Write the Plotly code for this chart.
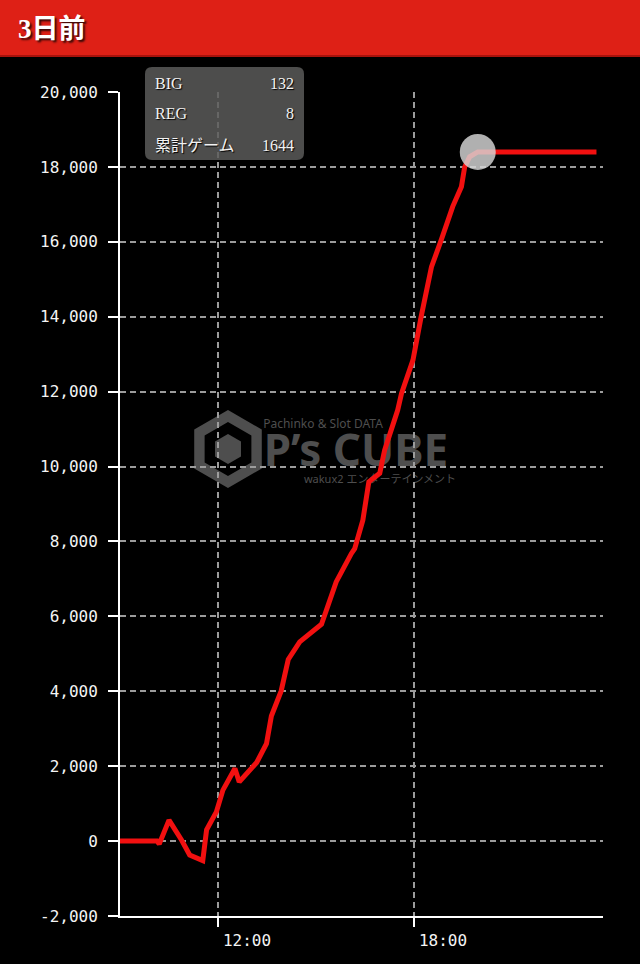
import math

import plotly.graph_objects as go

# slot data: time of day and cumulative difference
DAY = "2024-01-01 "
times = ["09:00", "10:08", "10:12", "10:30", "10:53", "11:08", "11:32", "11:39", "11:57", "12:09",
         "12:31", "12:39", "13:11", "13:29", "13:38", "13:56", "14:09", "14:30", "15:10", "15:37",
         "16:05", "16:11", "16:26", "16:37", "16:57", "17:06", "17:24", "17:30", "17:37", "17:55",
         "17:58", "18:13", "18:32", "18:50", "19:11", "19:27", "19:33", "19:42", "19:57", "23:35"]
diff = [0, 0, -80, 560, 30, -370, -520, 300, 780, 1360,
        1940, 1580, 2100, 2600, 3340, 4010, 4850, 5320, 5790, 6920,
        7680, 7810, 8570, 9590, 9820, 10440, 11240, 11510, 11950, 12660,
        12840, 14000, 15330, 16050, 16940, 17470, 18000, 18270, 18400, 18400]

highlight_time = "19:57"
highlight_value = 18400

y_ticks = [-2000, 0, 2000, 4000, 6000, 8000, 10000, 12000, 14000, 16000, 18000, 20000]
y_tick_labels = ["-2,000", "0", "2,000", "4,000", "6,000", "8,000", "10,000",
                 "12,000", "14,000", "16,000", "18,000", "20,000"]
x_ticks = ["12:00", "18:00"]

title = "3日前"
info_labels = ["BIG", "REG", "累計ゲーム"]
info_values = ["132", "8", "1644"]

# plot area in pixels (640x964 page)
L, R, T, B = 120, 603, 92, 916


def px(x):
    return (x - L) / (R - L)


def py(y):
    return (B - y) / (B - T)


def hex_path(cx, cy, r):
    pts = []
    for k in range(6):
        a = math.radians(90 + 60 * k)
        pts.append((px(cx + r * math.cos(a)), py(cy - r * math.sin(a))))
    return "M " + " L ".join("{:.5f},{:.5f}".format(a, b) for a, b in pts) + " Z"


def rounded_box(x0, y0, x1, y1, r):
    rx, ry = r / (R - L), r / (B - T)
    X0, X1, Yt, Yb = px(x0), px(x1), py(y0), py(y1)
    return (f"M {X0 + rx},{Yt} L {X1 - rx},{Yt} Q {X1},{Yt} {X1},{Yt - ry} "
            f"L {X1},{Yb + ry} Q {X1},{Yb} {X1 - rx},{Yb} L {X0 + rx},{Yb} "
            f"Q {X0},{Yb} {X0},{Yb + ry} L {X0},{Yt - ry} Q {X0},{Yt} {X0 + rx},{Yt} Z")


fig = go.Figure()
fig.add_trace(go.Scatter(
    x=[DAY + t for t in times], y=diff, mode="lines",
    line=dict(color="#f21010", width=5), hoverinfo="skip",
))
fig.add_trace(go.Scatter(
    x=[DAY + highlight_time], y=[highlight_value], mode="markers",
    marker=dict(size=36, color="rgba(215,215,215,0.82)", line=dict(width=0)),
    hoverinfo="skip",
))

shapes = []
# header bar
shapes.append(dict(type="rect", xref="paper", yref="paper", x0=px(0), x1=px(640), y0=py(57), y1=py(0),
                   fillcolor="#de2016", line=dict(width=0), layer="above"))
shapes.append(dict(type="line", xref="paper", yref="paper", x0=px(0), x1=px(640), y0=py(56), y1=py(56),
                   line=dict(color="#a8120c", width=2)))
# zero line
shapes.append(dict(type="line", xref="paper", yref="y", x0=0, x1=1, y0=0, y1=0,
                   line=dict(color="#e6e6e6", width=1.5, dash="6px,4px"), layer="below"))
# watermark logo
wm = "#4e4e4e"
shapes.append(dict(type="path", xref="paper", yref="paper",
                   path=hex_path(228, 449, 39) + " " + hex_path(228, 449, 27),
                   fillcolor=wm, line=dict(width=0), layer="below"))
shapes.append(dict(type="path", xref="paper", yref="paper", path=hex_path(228, 449, 15),
                   fillcolor=wm, line=dict(width=0), layer="below"))
for text, cx, cy, size, weight in [("Pachinko & Slot DATA", 323, 424, 12, "normal"),
                                   ("P’s CUBE", 356, 452, 44, "bold"),
                                   ("wakux2 エンターテインメント", 380, 479, 11, "normal")]:
    shapes.append(dict(type="rect", xref="paper", yref="paper",
                       x0=px(cx - 100), x1=px(cx + 100), y0=py(cy + 20), y1=py(cy - 20),
                       line=dict(width=0), fillcolor="rgba(0,0,0,0)", layer="below",
                       label=dict(text=text, textposition="middle center",
                                  font=dict(family="Noto Sans, Noto Sans CJK JP", size=size,
                                            color=wm, weight=weight))))
# info box
shapes.append(dict(type="path", xref="paper", yref="paper", path=rounded_box(145, 67, 304, 160, 7),
                   fillcolor="rgba(92,92,90,0.84)", line=dict(width=0), layer="above"))

annotations = [dict(text=title, x=px(16), y=py(29), xref="paper", yref="paper",
                    xanchor="left", yanchor="middle", showarrow=False,
                    font=dict(family="Liberation Serif, Noto Sans CJK JP", size=27, color="white",
                              weight="bold", shadow="2px 2px 2px rgba(0,0,0,0.75)"))]
info_font = dict(family="Liberation Serif, Noto Sans CJK JP", size=16, color="#f2f2f2",
                 shadow="1px 1px 1px #000")
for i, (lab, val) in enumerate(zip(info_labels, info_values)):
    yy = py(83 + 31 * i)
    annotations.append(dict(text=lab, x=px(153), y=yy, xref="paper", yref="paper",
                            xanchor="left", yanchor="middle", showarrow=False, font=info_font))
    annotations.append(dict(text=val, x=px(296), y=yy, xref="paper", yref="paper",
                            xanchor="right", yanchor="middle", showarrow=False, font=info_font))

tick_font = dict(family="DejaVu Sans Mono", size=16, color="#f4f4f4")
grid = "#9c9c9c"
fig.update_layout(
    width=640, height=964,
    margin=dict(l=L, r=640 - R, t=T, b=964 - B, pad=0),
    paper_bgcolor="black", plot_bgcolor="rgba(0,0,0,0)",
    showlegend=False, shapes=shapes, annotations=annotations,
    xaxis=dict(
        type="date", range=[DAY + "09:00", DAY + "23:47"],
        tickvals=[DAY + t for t in x_ticks], ticktext=x_ticks,
        showgrid=True, gridcolor=grid, gridwidth=1.5, griddash="6px,4px",
        showline=True, linecolor="white", linewidth=2,
        ticks="outside", ticklen=9, tickwidth=2, tickcolor="white",
        tickfont=tick_font, ticklabelshift=29, ticklabelstandoff=0,
        zeroline=False, fixedrange=True, automargin=False,
    ),
    yaxis=dict(
        range=[-2000, 20000], tickvals=y_ticks, ticktext=y_tick_labels,
        showgrid=True, gridcolor=grid, gridwidth=1.5, griddash="6px,4px",
        showline=True, linecolor="white", linewidth=2,
        ticks="outside", ticklen=10, tickwidth=2, tickcolor="white",
        tickfont=tick_font, ticklabelstandoff=7,
        zeroline=False, fixedrange=True, automargin=False,
    ),
)

# the page body has a default margin; remove it so the figure fills the window
fig.write_html("out.html", config={"displayModeBar": False},
               post_script="document.body.style.margin='0';document.body.style.background='black';")
